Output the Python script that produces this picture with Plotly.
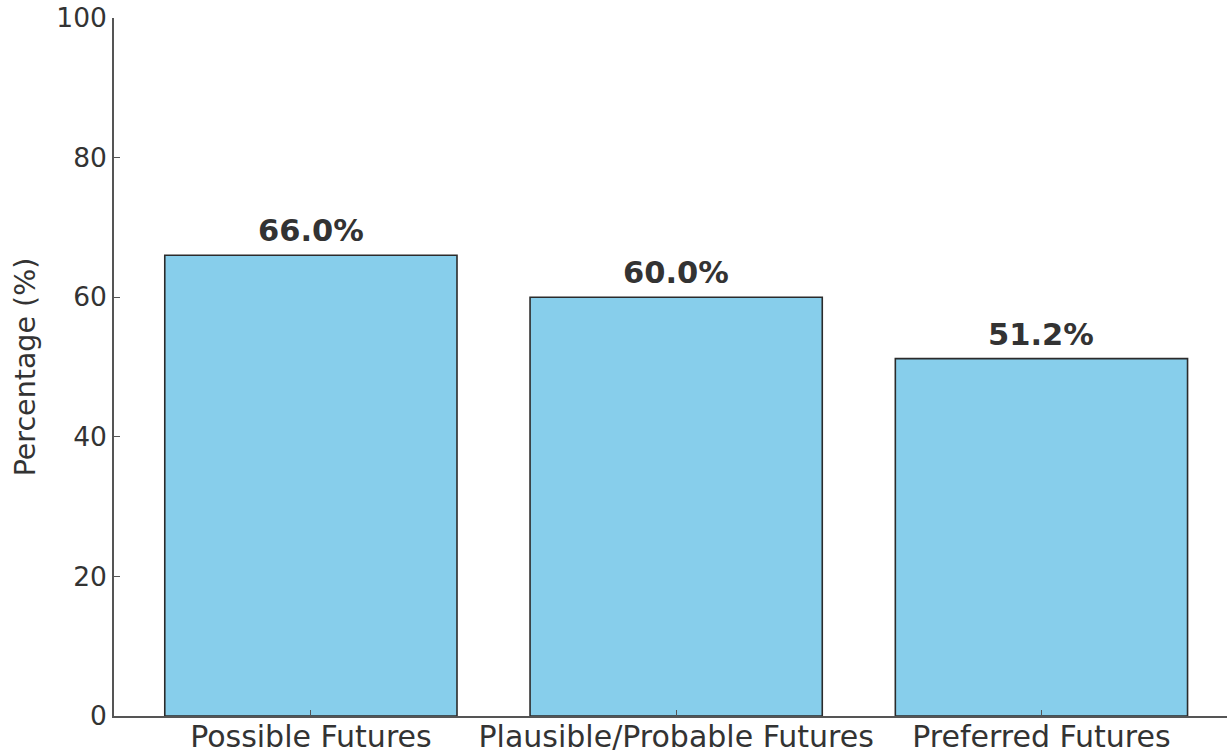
import plotly.graph_objects as go

categories = ["Possible Futures", "Plausible/Probable Futures", "Preferred Futures"]
values = [66.0, 60.0, 51.2]
labels = [f"{v:.1f}%" for v in values]
y_ticks = [0, 20, 40, 60, 80, 100]

FONT = "DejaVu Sans"
TEXT = "#333333"
SPINE = "#555555"

fig = go.Figure()
fig.add_trace(go.Bar(
    x=[0, 1, 2], y=values, width=0.8,
    marker=dict(color="#87CEEB", line=dict(color="#2b2b2b", width=1.6)),
    hoverinfo="skip",
))
for i, (v, t) in enumerate(zip(values, labels)):
    fig.add_annotation(x=i, y=v, text=f"<b>{t}</b>", showarrow=False,
                       yanchor="bottom", yshift=5,
                       font=dict(family=FONT, size=30.5, color=TEXT))

fig.update_layout(
    width=1227, height=752,
    margin=dict(l=114, r=0, t=18, b=36, autoexpand=False),
    paper_bgcolor="white", plot_bgcolor="white",
    showlegend=False,
    font=dict(family=FONT, color=TEXT),
)
fig.update_xaxes(
    range=[-0.539, 2.508], tickmode="array", tickvals=[0, 1, 2], ticktext=categories,
    ticks="inside", ticklen=6, tickcolor=SPINE, tickwidth=1.2,
    showline=True, linecolor=SPINE, linewidth=1.5, showgrid=False, zeroline=False,
    tickfont=dict(family=FONT, size=30, color=TEXT), automargin=False,
    ticklabelstandoff=-7,
)
fig.update_yaxes(
    range=[0, 100], tickmode="array", tickvals=y_ticks,
    ticks="inside", ticklen=6, tickcolor=SPINE, tickwidth=1.2,
    showline=True, linecolor=SPINE, linewidth=1.5, showgrid=False, zeroline=False,
    tickfont=dict(family=FONT, size=26.5, color=TEXT), automargin=False,
    title=dict(text="Percentage (%)", font=dict(family=FONT, size=28.5, color=TEXT), standoff=12),
)

fig.write_html("out.html")
